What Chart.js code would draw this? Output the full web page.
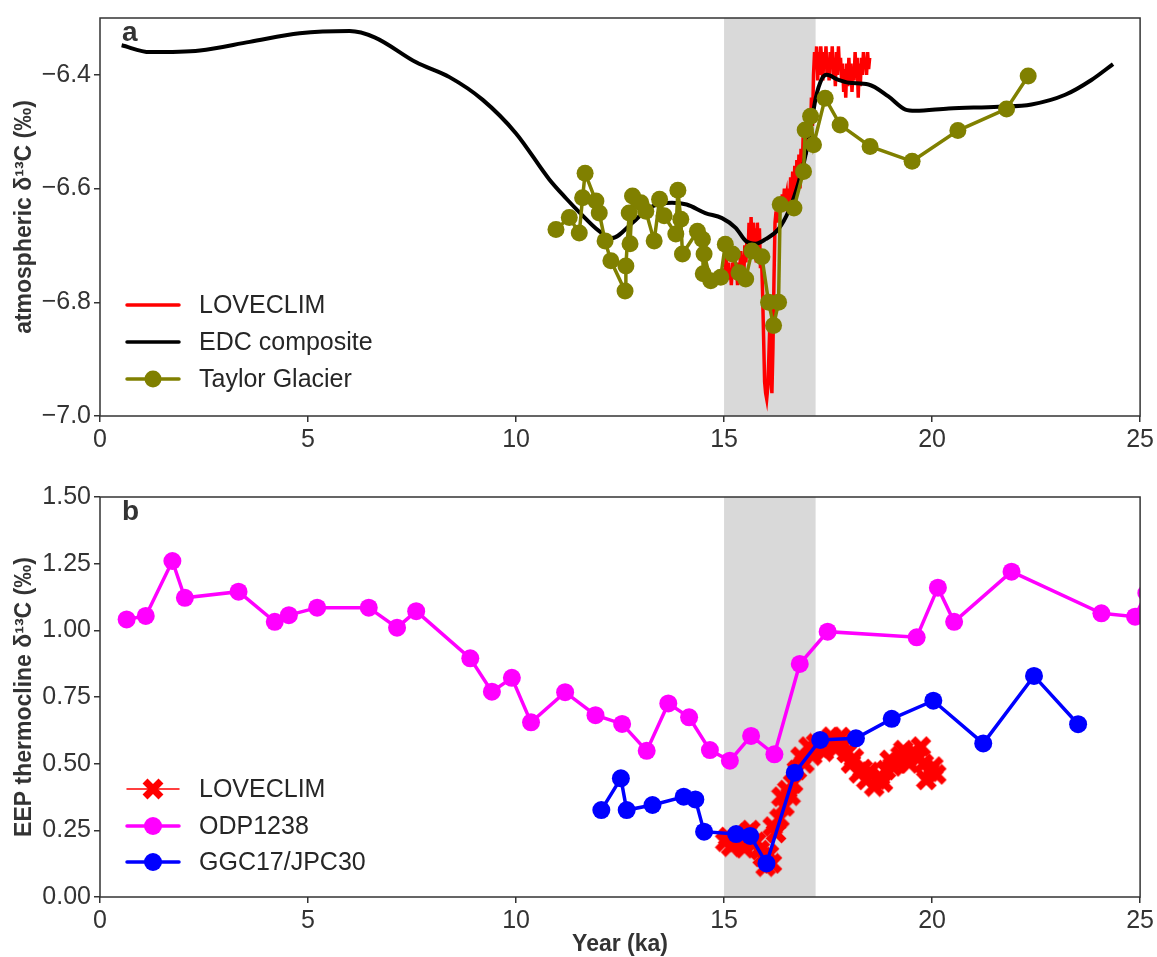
<!DOCTYPE html>
<html><head><meta charset="utf-8">
<script src="https://cdn.jsdelivr.net/npm/chart.js@4.4.1/dist/chart.umd.min.js"></script>
<style>
html,body{margin:0;padding:0;background:#fff;}
#wrapA{position:absolute;left:0;top:0;width:1157px;height:460px;}
#wrapB{position:absolute;left:0;top:460px;width:1157px;height:497px;}
</style></head><body>
<div id="wrapA"><canvas id="cA" width="1157" height="460"></canvas></div>
<div id="wrapB"><canvas id="cB" width="1157" height="497"></canvas></div>
<script>
// ---------- data ----------
const xTicks = [0, 5, 10, 15, 20, 25];
const yTicksA = [-7.0, -6.8, -6.6, -6.4];
const yTicksB = [0, 0.25, 0.5, 0.75, 1.0, 1.25, 1.5];
const shadeStart = 15.0, shadeEnd = 17.2;

// panel a: EDC composite
const edcX = [0.52,1.2,2.4,3.6,4.8,6.0,6.6,7.6,8.4,9.2,10.0,10.8,11.2,11.5,12.0,12.3,12.8,13.2,13.75,14.1,14.55,14.95,15.28,15.52,15.76,16.0,16.31,16.55,16.8,17.03,17.2,17.35,17.47,17.75,18.0,18.47,18.95,19.36,19.6,20.4,21.6,22.39,23.2,23.83,24.35];
const edcY = [-6.348,-6.36,-6.357,-6.342,-6.327,-6.323,-6.334,-6.378,-6.404,-6.444,-6.503,-6.584,-6.617,-6.64,-6.675,-6.687,-6.66,-6.634,-6.625,-6.628,-6.643,-6.652,-6.669,-6.692,-6.697,-6.689,-6.671,-6.64,-6.587,-6.517,-6.442,-6.407,-6.40,-6.409,-6.414,-6.417,-6.438,-6.461,-6.463,-6.459,-6.456,-6.452,-6.435,-6.409,-6.381];

// panel a: Taylor Glacier
const tayX = [10.96,11.28,11.52,11.60,11.66,11.92,12.00,12.14,12.28,12.62,12.64,12.72,12.74,12.80,13.00,13.12,13.32,13.45,13.56,13.84,13.89,13.96,14.00,14.36,14.48,14.50,14.52,14.68,14.92,15.03,15.20,15.36,15.52,15.67,15.91,16.07,16.19,16.31,16.35,16.68,16.91,16.95,17.08,17.15,17.43,17.79,18.51,19.52,20.62,21.79,22.31];
const tayY = [-6.672,-6.651,-6.678,-6.616,-6.573,-6.622,-6.643,-6.692,-6.727,-6.780,-6.736,-6.643,-6.697,-6.613,-6.625,-6.640,-6.692,-6.619,-6.648,-6.680,-6.603,-6.654,-6.715,-6.675,-6.689,-6.750,-6.715,-6.762,-6.756,-6.698,-6.715,-6.748,-6.759,-6.710,-6.720,-6.800,-6.841,-6.800,-6.628,-6.634,-6.570,-6.497,-6.473,-6.523,-6.441,-6.488,-6.526,-6.552,-6.498,-6.460,-6.402];

// panel a: LOVECLIM (model, noisy)
const loveAX = [15.000,15.025,15.050,15.075,15.100,15.125,15.150,15.175,15.200,15.225,15.250,15.275,15.300,15.325,15.350,15.375,15.400,15.425,15.450,15.475,15.500,15.525,15.550,15.575,15.600,15.625,15.650,15.675,15.700,15.725,15.750,15.775,15.800,15.825,15.850,15.875,15.900,15.925,15.950,15.975,16.000,16.025,16.050,16.075,16.100,16.125,16.150,16.175,16.200,16.225,16.250,16.275,16.300,16.325,16.350,16.375,16.400,16.425,16.450,16.475,16.500,16.525,16.550,16.575,16.600,16.625,16.650,16.675,16.700,16.725,16.750,16.775,16.800,16.825,16.850,16.875,16.900,16.925,16.950,16.975,17.000,17.025,17.050,17.075,17.100,17.125,17.150,17.175,17.200,17.225,17.250,17.275,17.300,17.325,17.350,17.375,17.400,17.425,17.450,17.475,17.500,17.525,17.550,17.575,17.600,17.625,17.650,17.675,17.700,17.725,17.750,17.775,17.800,17.825,17.850,17.875,17.900,17.925,17.950,17.975,18.000,18.025,18.050,18.075,18.100,18.125,18.150,18.175,18.200,18.225,18.250,18.275,18.300,18.325,18.350,18.375,18.400,18.425,18.450,18.475,18.500];
const loveAY = [-6.74,-6.76,-6.72,-6.75,-6.73,-6.76,-6.74,-6.77,-6.73,-6.75,-6.72,-6.76,-6.74,-6.77,-6.73,-6.75,-6.71,-6.74,-6.72,-6.75,-6.70,-6.73,-6.69,-6.72,-6.66,-6.70,-6.65,-6.72,-6.66,-6.70,-6.67,-6.73,-6.66,-6.71,-6.67,-6.74,-6.72,-6.78,-6.86,-6.94,-6.96,-6.97,-6.95,-6.90,-6.84,-6.93,-6.96,-6.88,-6.76,-6.66,-6.64,-6.66,-6.63,-6.65,-6.62,-6.64,-6.61,-6.63,-6.60,-6.62,-6.61,-6.64,-6.60,-6.63,-6.58,-6.62,-6.57,-6.61,-6.56,-6.60,-6.55,-6.59,-6.54,-6.60,-6.53,-6.58,-6.51,-6.56,-6.49,-6.54,-6.47,-6.53,-6.46,-6.51,-6.44,-6.49,-6.40,-6.36,-6.39,-6.35,-6.41,-6.36,-6.40,-6.35,-6.38,-6.41,-6.36,-6.39,-6.35,-6.40,-6.37,-6.41,-6.36,-6.39,-6.35,-6.40,-6.37,-6.42,-6.36,-6.40,-6.35,-6.39,-6.37,-6.41,-6.38,-6.43,-6.39,-6.44,-6.38,-6.42,-6.37,-6.41,-6.38,-6.43,-6.39,-6.41,-6.36,-6.40,-6.37,-6.44,-6.38,-6.42,-6.37,-6.40,-6.36,-6.39,-6.37,-6.40,-6.36,-6.39,-6.37];

// panel b: ODP1238
const odpX = [0.64,1.10,1.74,2.04,3.33,4.20,4.54,5.22,6.46,7.14,7.60,8.90,9.42,9.90,10.36,11.18,11.91,12.55,13.14,13.66,14.16,14.66,15.14,15.65,16.21,16.82,17.49,19.63,20.14,20.53,21.91,24.07,24.88,25.15];
const odpY = [1.041,1.054,1.26,1.122,1.145,1.032,1.057,1.085,1.085,1.01,1.072,0.895,0.77,0.822,0.655,0.768,0.682,0.649,0.548,0.726,0.674,0.551,0.511,0.604,0.535,0.874,0.995,0.974,1.16,1.032,1.22,1.064,1.051,1.14];

// panel b: GGC17/JPC30
const ggcX = [12.05,12.52,12.66,13.28,14.03,14.31,14.52,15.29,15.63,16.02,16.70,17.31,18.17,19.03,20.03,21.23,22.45,23.51];
const ggcY = [0.326,0.445,0.326,0.345,0.376,0.366,0.245,0.236,0.229,0.126,0.466,0.589,0.595,0.668,0.736,0.576,0.829,0.648];

// panel b: LOVECLIM
const loveBX = [15.03,15.10,15.17,15.25,15.36,15.43,15.49,15.56,15.63,15.70,15.77,15.86,15.93,16.00,16.08,16.15,16.17,16.25,16.33,16.38,16.45,16.52,16.60,16.66,16.75,16.84,16.93,17.03,17.12,17.21,17.30,17.40,17.50,17.58,17.66,17.73,17.80,17.86,17.95,18.05,18.12,18.24,18.33,18.42,18.50,18.61,18.68,18.75,18.82,18.89,18.98,19.05,19.16,19.24,19.31,19.38,19.45,19.52,19.59,19.66,19.73,19.80,19.86,19.94,20.03,20.10];
const loveBY = [0.207,0.225,0.189,0.215,0.226,0.200,0.183,0.240,0.251,0.200,0.207,0.176,0.150,0.114,0.160,0.126,0.264,0.240,0.295,0.376,0.340,0.401,0.380,0.426,0.476,0.526,0.501,0.564,0.530,0.576,0.560,0.545,0.580,0.601,0.560,0.564,0.600,0.576,0.540,0.501,0.520,0.464,0.480,0.439,0.470,0.414,0.440,0.451,0.430,0.476,0.514,0.490,0.501,0.530,0.551,0.520,0.501,0.540,0.539,0.520,0.564,0.500,0.439,0.470,0.489,0.460];

// ---------- helpers ----------
const FONT = "'Liberation Sans', Arial, Helvetica, sans-serif";
const INK = '#333333';
const TICK_SIZE = 25;
const TITLE_SIZE = 23;
const pts = (xs, ys) => xs.map((x, i) => ({x: x, y: ys[i]}));

function makeX(size, lw) {
  const c = document.createElement('canvas');
  c.width = size; c.height = size;
  const g = c.getContext('2d');
  const m = lw * 0.36 + 0.5;
  g.strokeStyle = '#ff0000'; g.lineWidth = lw; g.lineCap = 'butt';
  g.beginPath();
  g.moveTo(m, m); g.lineTo(size - m, size - m);
  g.moveTo(size - m, m); g.lineTo(m, size - m);
  g.stroke();
  return c;
}
const xMark = makeX(22, 7);

function decor(letter, legend) {
  return {
    id: 'decor' + letter,
    beforeDatasetsDraw(chart) {
      const {ctx, chartArea: a, scales: {x}} = chart;
      const x0 = x.getPixelForValue(shadeStart), x1 = x.getPixelForValue(shadeEnd);
      ctx.save();
      ctx.fillStyle = '#d9d9d9';
      ctx.fillRect(x0, a.top, x1 - x0, a.bottom - a.top);
      ctx.restore();
    },
    afterDraw(chart) {
      const {ctx, chartArea: a} = chart;
      ctx.save();
      ctx.strokeStyle = INK; ctx.lineWidth = 1.5;
      ctx.strokeRect(a.left, a.top, a.right - a.left, a.bottom - a.top);
      ctx.fillStyle = INK;
      ctx.font = 'bold 28px ' + FONT;
      ctx.textBaseline = 'middle'; ctx.textAlign = 'left';
      ctx.fillText(letter, a.left + 22, a.top + 15);
      ctx.font = '25px ' + FONT;
      legend.forEach(it => {
        const y = it.y;
        ctx.strokeStyle = it.color; ctx.lineWidth = it.lw; ctx.lineCap = 'round';
        ctx.beginPath(); ctx.moveTo(127, y); ctx.lineTo(179, y); ctx.stroke();
        if (it.marker === 'circle') {
          ctx.fillStyle = it.color;
          ctx.beginPath(); ctx.arc(153, y, it.r, 0, Math.PI * 2); ctx.fill();
        } else if (it.marker === 'x') {
          ctx.drawImage(xMark, 153 - 11, y - 11);
        }
        ctx.fillStyle = '#262626';
        ctx.fillText(it.label, 199, y + 1);
      });
      ctx.restore();
    }
  };
}

function axisCommon() {
  return {
    grid: {display: true, drawOnChartArea: false, drawTicks: true, tickLength: 6, color: INK, lineWidth: 1.5},
    border: {display: false}
  };
}

// ---------- chart a ----------
new Chart(document.getElementById('cA'), {
  type: 'line',
  data: {datasets: [
    {label: 'LOVECLIM', data: pts(loveAX, loveAY), borderColor: '#ff0000', borderWidth: 3.5, pointRadius: 0, tension: 0, order: 3},
    {label: 'EDC composite', data: pts(edcX, edcY), borderColor: '#000000', borderWidth: 4, pointRadius: 0, cubicInterpolationMode: 'monotone', order: 2},
    {label: 'Taylor Glacier', data: pts(tayX, tayY), borderColor: '#808000', backgroundColor: '#808000', borderWidth: 3.5,
     pointRadius: 8.5, pointBackgroundColor: '#808000', pointBorderWidth: 0, tension: 0, order: 1}
  ]},
  options: {
    responsive: false, animation: false, events: [],
    layout: {padding: {top: 15, right: 15, left: 0, bottom: 0}},
    plugins: {legend: {display: false}, tooltip: {enabled: false}},
    scales: {
      x: Object.assign(axisCommon(), {
        type: 'linear', min: 0, max: 25,
        afterBuildTicks: s => { s.ticks = xTicks.map(v => ({value: v})); },
        afterFit: s => { s.height = 44; },
        ticks: {font: {size: TICK_SIZE, family: FONT}, color: INK, padding: 3, maxRotation: 0, autoSkip: false}
      }),
      y: Object.assign(axisCommon(), {
        type: 'linear', min: -7.0, max: -6.3,
        afterBuildTicks: s => { s.ticks = yTicksA.map(v => ({value: v})); },
        afterFit: s => { s.width = 100; },
        ticks: {font: {size: TICK_SIZE, family: FONT}, color: INK, padding: 3, autoSkip: false,
                callback: v => Number(v).toFixed(1).replace('-', '\u2212')},
        title: {display: true, text: 'atmospheric \u03b4\u00b9\u00b3C (\u2030)', color: INK,
                font: {size: TITLE_SIZE, weight: 'bold', family: FONT}, padding: {top: 11, bottom: 0}}
      })
    }
  },
  plugins: [decor('a', [
    {label: 'LOVECLIM', color: '#ff0000', lw: 3.5, marker: null, y: 305},
    {label: 'EDC composite', color: '#000000', lw: 3.5, marker: null, y: 342},
    {label: 'Taylor Glacier', color: '#808000', lw: 3.5, marker: 'circle', r: 8.5, y: 379}
  ])]
});

// ---------- chart b ----------
new Chart(document.getElementById('cB'), {
  type: 'line',
  data: {datasets: [
    {label: 'LOVECLIM', data: pts(loveBX, loveBY), borderColor: '#ff0000', borderWidth: 1.5, pointStyle: xMark, pointRadius: 11, tension: 0, order: 3},
    {label: 'ODP1238', data: pts(odpX, odpY), borderColor: '#ff00ff', backgroundColor: '#ff00ff', borderWidth: 3.5,
     pointRadius: 9, pointBackgroundColor: '#ff00ff', pointBorderWidth: 0, tension: 0, order: 2},
    {label: 'GGC17/JPC30', data: pts(ggcX, ggcY), borderColor: '#0000ff', backgroundColor: '#0000ff', borderWidth: 3.5,
     pointRadius: 9, pointBackgroundColor: '#0000ff', pointBorderWidth: 0, tension: 0, order: 1}
  ]},
  options: {
    responsive: false, animation: false, events: [],
    layout: {padding: {top: 37, right: 15, left: 0, bottom: 0}},
    plugins: {legend: {display: false}, tooltip: {enabled: false}},
    scales: {
      x: Object.assign(axisCommon(), {
        type: 'linear', min: 0, max: 25,
        afterBuildTicks: s => { s.ticks = xTicks.map(v => ({value: v})); },
        afterFit: s => { s.height = 60; },
        ticks: {font: {size: TICK_SIZE, family: FONT}, color: INK, padding: 3, maxRotation: 0, autoSkip: false},
        title: {display: true, text: 'Year (ka)', color: INK,
                font: {size: TITLE_SIZE, weight: 'bold', family: FONT, lineHeight: 1.1}, padding: {top: 0, bottom: 0}}
      }),
      y: Object.assign(axisCommon(), {
        type: 'linear', min: 0, max: 1.5,
        afterBuildTicks: s => { s.ticks = yTicksB.map(v => ({value: v})); },
        afterFit: s => { s.width = 100; },
        ticks: {font: {size: TICK_SIZE, family: FONT}, color: INK, padding: 3, autoSkip: false,
                callback: v => Number(v).toFixed(2)},
        title: {display: true, text: 'EEP thermocline \u03b4\u00b9\u00b3C (\u2030)', color: INK,
                font: {size: TITLE_SIZE, weight: 'bold', family: FONT}, padding: {top: 11, bottom: 0}}
      })
    }
  },
  plugins: [decor('b', [
    {label: 'LOVECLIM', color: '#ff0000', lw: 1.5, marker: 'x', y: 329},
    {label: 'ODP1238', color: '#ff00ff', lw: 3.5, marker: 'circle', r: 9, y: 366},
    {label: 'GGC17/JPC30', color: '#0000ff', lw: 3.5, marker: 'circle', r: 9, y: 402}
  ])]
});
</script>
</body></html>
